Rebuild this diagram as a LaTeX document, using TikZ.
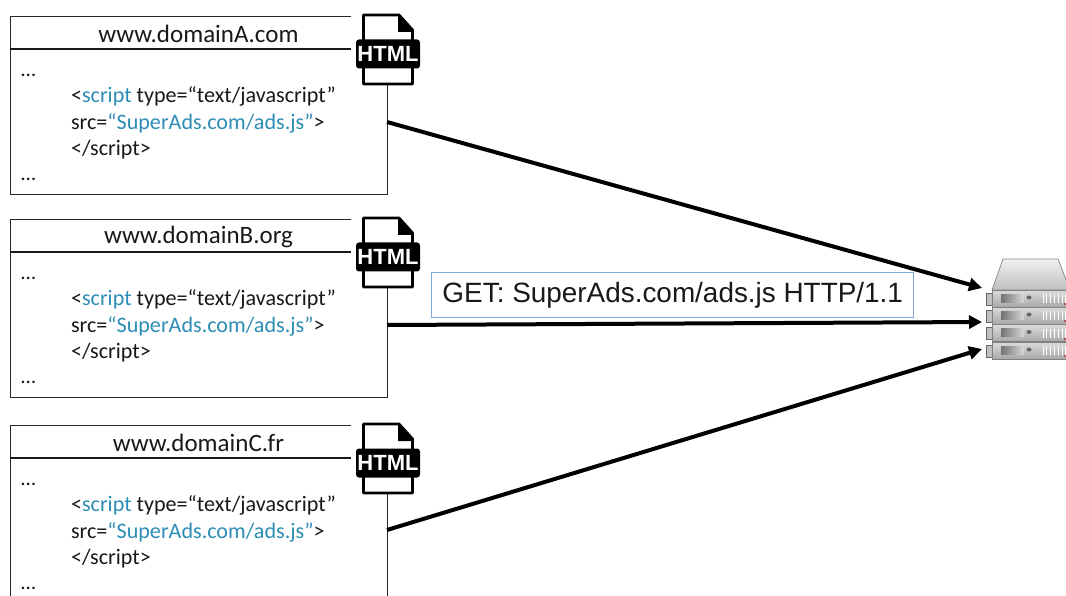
\documentclass[tikz,border=0pt]{standalone}
\usepackage{fontspec}
\setmainfont{Carlito}
\newfontfamily\arialfont{Liberation Sans}
\usetikzlibrary{arrows.meta,shadings}
\definecolor{linkblue}{HTML}{2E8DB5}
\definecolor{labelblue}{HTML}{7FA8D8}
\newcommand{\lb}[1]{\textcolor{linkblue}{#1}}
\tikzset{x=1pt,y=-1pt,
  page/.style={draw=black!85,line width=1.1pt,fill=white,minimum width=377pt,inner sep=0pt,anchor=north west},
  dom/.style={font=\fontsize{25}{27}\selectfont,text=black!90,anchor=center},
  code/.style={font=\fontsize{22.1}{26.5}\selectfont,text=black!90,anchor=west,align=left},
  dots/.style={font=\fontsize{21}{22}\selectfont,text=black!90,anchor=west,inner sep=0pt},
  conn/.style={draw=black,line width=4pt,-{Triangle[length=13pt,width=13pt]}},
  unit/.style={draw=black!50,line width=.8pt,top color=black!14,bottom color=black!34},
}
\newcommand{\pagebox}[4]{%
  \node[page,minimum height=#3pt] (#1) at (10,#2) {};
  \draw[black!90,line width=1.1pt] (10,#2+33) -- (387,#2+33);
  \fill[white] (351,#2-6) rectangle (425,#2+69);
  \node[dom] (#1t) at (198.5,#2+18) {#4};
  \node[dots] (#1d1) at (21,#2+59) {…};
  \node[code] (#1c) at (67.5,#2+107) {<\lb{script} type=“text/javascript”\\src=\lb{“SuperAds.com/ads.js”}>\\</script>};
  \node[dots] (#1d2) at (21,#2+163) {…};
  % icon
  \draw[black,line width=2.8pt,line join=round,fill=white]
    (363.5,#2-1) -- (399,#2-1) -- (412.5,#2+14) -- (412.5,#2+68) -- (363.5,#2+68) -- cycle;
  \fill[black] (398,#2-1) -- (412.5,#2+14) -- (412.5,#2+16) -- (398,#2+16) -- cycle;
  \node[fill=black,rounded corners=3pt,minimum width=64pt,minimum height=29pt,inner sep=0pt,text=white,
     font=\arialfont\bfseries\fontsize{22}{22}\selectfont] (#1i) at (388,#2+38) {HTML};
}
\newcommand{\srvunit}[2]{%
  \draw[black!60,line width=.8pt,fill=black!25] (986,#1+3) rectangle (993,#1+#2-2);
  \draw[unit] (992,#1) rectangle (1070,#1+#2);
  \shade[left color=black!55,right color=black!15] (1001,#1+4) rectangle (1024,#1+#2-5);
  \fill[black!60] (1029,#1+#2/2-1) ellipse (2.5pt and 2pt);
  \foreach \k in {0,...,6}{\draw[white,line width=.8pt] (1043+\k*3.8,#1+4) -- (1043+\k*3.8,#1+#2-4);}
}
\begin{document}
\begin{tikzpicture}
\useasboundingbox (0,0) rectangle (1066,596);
\clip (0,0) rectangle (1066,596);
\pagebox{a}{16}{178}{www.domainA.com}
\pagebox{b}{219}{178}{www.domainB.org}
\pagebox{c}{425}{178}{www.domainC.fr}
% server
\draw[black!45,line width=.8pt,top color=black!6,bottom color=black!25] (992,290) -- (1003,259) -- (1058,259) -- (1070,290) -- cycle;
\srvunit{290}{17}
\srvunit{307}{17}
\srvunit{324.5}{17}
\srvunit{342}{17}
\fill[red!70!black] (1065,304) circle (.8pt) (1065,321) circle (.8pt) (1065,339) circle (.8pt) (1065,356) circle (.8pt);
\coordinate (sA) at (982,288);
\coordinate (sB) at (982,322);
\coordinate (sC) at (982,349);
\coordinate (oA) at (387,122);
\coordinate (oB) at (387,325);
\coordinate (oC) at (387,530);
\draw[conn] (oA) -- (sA);
\draw[conn] (oB) -- (sB);
\draw[conn] (oC) -- (sC);
\node[draw=labelblue,line width=1pt,fill=white,minimum width=482pt,minimum height=44pt,inner sep=0pt,
  font=\arialfont\fontsize{27.9}{30}\selectfont,text=black!90] (lab) at (672,295) {\hspace*{1.5pt}\raisebox{-3.5pt}{GET: SuperAds.com/ads.js HTTP/1.1}};
\end{tikzpicture}
\end{document}
